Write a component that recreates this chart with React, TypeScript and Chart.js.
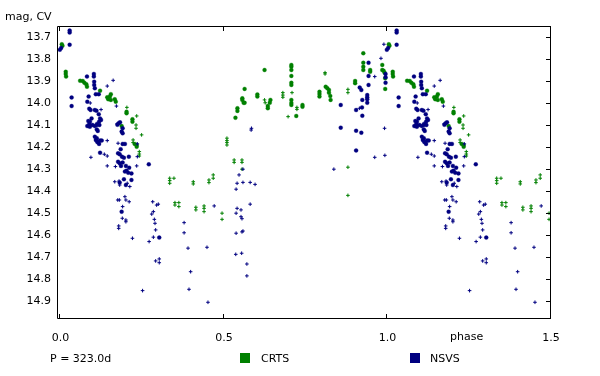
import React, { useEffect, useRef } from "react";
import { Chart, registerables } from "chart.js";

Chart.register(...registerables);

// ---- Data (phase, magnitude) ----
const xTicks = [0, 0.5, 1.0, 1.5];
const yTicks = [13.7, 13.8, 13.9, 14.0, 14.1, 14.2, 14.3, 14.4, 14.5, 14.6, 14.7, 14.8, 14.9];
const periodLabel = "P = 323.0d";
const seriesNames = ["CRTS", "NSVS"];

const crtsDots: [number, number][] = [
  [0.004, 13.733], [0.006, 13.740], [0.016, 13.858], [0.016, 13.868], [0.017, 13.880],
  [0.060, 13.899], [0.068, 13.900], [0.073, 13.908], [0.079, 13.915], [0.081, 13.926],
  [0.121, 13.944], [0.143, 13.974], [0.146, 13.983], [0.151, 13.971], [0.154, 13.960],
  [0.154, 13.986], [0.166, 13.983], [0.169, 13.994], [0.202, 14.040], [0.202, 14.047],
  [0.220, 14.074], [0.220, 14.085], [0.187, 14.105], [0.227, 14.186], [0.233, 14.191],
  [0.233, 14.199],
  [0.624, 13.850], [0.563, 13.936], [0.556, 13.979], [0.556, 13.986], [0.560, 13.999],
  [0.563, 13.999], [0.541, 14.024], [0.541, 14.036], [0.535, 14.067], [0.602, 13.961],
  [0.602, 13.971], [0.634, 14.014], [0.634, 14.024], [0.640, 13.999], [0.642, 13.986],
  [0.706, 13.827], [0.706, 13.835], [0.706, 13.850], [0.706, 13.877], [0.706, 13.908],
  [0.706, 13.918], [0.706, 13.986], [0.706, 14.000], [0.706, 14.009], [0.721, 14.059],
  [0.740, 14.009], [0.740, 14.017], [0.792, 13.949], [0.792, 13.959], [0.792, 13.971],
  [0.811, 13.926], [0.816, 13.933], [0.821, 13.941], [0.821, 13.953], [0.825, 13.968],
  [0.826, 13.986], [0.901, 13.900], [0.901, 13.910], [0.926, 13.774], [0.926, 13.817],
  [0.926, 13.835], [0.926, 13.850], [0.947, 13.850], [0.947, 13.858], [0.984, 13.827],
  [0.984, 13.850], [0.988, 13.853], [0.991, 13.862], [0.993, 13.888], [0.993, 13.936],
];

const crtsCrosses: [number, number][] = [
  [0.203, 14.020], [0.233, 14.059], [0.231, 14.100], [0.231, 14.115], [0.248, 14.145],
  [0.222, 14.168], [0.222, 14.180], [0.241, 14.221], [0.241, 14.232], [0.241, 14.241],
  [0.334, 14.342], [0.334, 14.353], [0.334, 14.365], [0.347, 14.342], [0.406, 14.358],
  [0.406, 14.368], [0.350, 14.453], [0.350, 14.464], [0.362, 14.453], [0.362, 14.471],
  [0.414, 14.474], [0.414, 14.486], [0.467, 14.327], [0.467, 14.342], [0.454, 14.350],
  [0.454, 14.362], [0.439, 14.468], [0.439, 14.479], [0.439, 14.494], [0.494, 14.501],
  [0.494, 14.529],
  [0.624, 13.986], [0.626, 13.999], [0.680, 13.953], [0.680, 13.964], [0.680, 13.974],
  [0.696, 14.062], [0.708, 13.953], [0.723, 14.020], [0.723, 14.029], [0.809, 13.862],
  [0.809, 13.868], [0.879, 13.938], [0.879, 13.953], [0.509, 14.160], [0.509, 14.171],
  [0.509, 14.180], [0.509, 14.191], [0.531, 14.259], [0.531, 14.270], [0.555, 14.259],
  [0.555, 14.270], [0.555, 14.301], [0.879, 14.292], [0.879, 14.420],
];

const nsvsDots: [number, number][] = [
  [-0.002, 13.758], [0.002, 13.750], [0.028, 13.671], [0.028, 13.680], [0.028, 13.735],
  [0.034, 13.975], [0.034, 14.014], [0.081, 13.880], [0.102, 13.868], [0.102, 13.880],
  [0.103, 13.903], [0.103, 13.918], [0.105, 13.933], [0.108, 13.960], [0.117, 13.960],
  [0.086, 13.971], [0.082, 13.994], [0.088, 14.026], [0.092, 14.032], [0.105, 14.032],
  [0.110, 14.035], [0.117, 14.051], [0.121, 14.070], [0.095, 14.070], [0.090, 14.085],
  [0.087, 14.105], [0.111, 14.100], [0.119, 14.100], [0.124, 14.077], [0.085, 14.082],
  [0.088, 14.095], [0.082, 14.105], [0.090, 14.108], [0.098, 14.100], [0.105, 14.105],
  [0.112, 14.095], [0.118, 14.085], [0.111, 14.120], [0.114, 14.127], [0.105, 14.153],
  [0.111, 14.160], [0.108, 14.168], [0.112, 14.176], [0.115, 14.180], [0.121, 14.171],
  [0.126, 14.171], [0.118, 14.186], [0.121, 14.226], [0.190, 14.115], [0.187, 14.130],
  [0.190, 14.138], [0.178, 14.092], [0.174, 14.099], [0.182, 14.088], [0.190, 14.186],
  [0.197, 14.186], [0.184, 14.210], [0.176, 14.229], [0.181, 14.233], [0.188, 14.244],
  [0.194, 14.249], [0.209, 14.244], [0.176, 14.267], [0.181, 14.274], [0.185, 14.286],
  [0.190, 14.271], [0.200, 14.286], [0.210, 14.294], [0.197, 14.312], [0.202, 14.308],
  [0.207, 14.317], [0.217, 14.320], [0.194, 14.347], [0.217, 14.350], [0.181, 14.362],
  [0.200, 14.373], [0.270, 14.279], [0.187, 14.494], [0.302, 14.612],
  [0.857, 14.009], [0.857, 14.112], [0.904, 14.032], [0.922, 14.020], [0.915, 13.930],
  [0.920, 13.941], [0.923, 13.986], [0.923, 14.058], [0.938, 13.964], [0.938, 13.974],
  [0.938, 13.983], [0.938, 13.999], [0.942, 13.817], [0.942, 13.877], [0.942, 13.918],
  [0.994, 13.868], [0.994, 13.883], [0.994, 13.908], [0.904, 14.126], [0.920, 14.135],
  [0.904, 14.216],
];

const nsvsCrosses: [number, number][] = [
  [0.143, 13.923], [0.161, 13.897], [0.124, 14.030], [0.091, 14.000], [0.171, 14.014],
  [0.173, 14.095], [0.143, 14.171], [0.176, 14.183], [0.235, 14.186], [0.093, 14.247],
  [0.134, 14.233], [0.143, 14.241], [0.143, 14.286], [0.168, 14.289], [0.235, 14.244],
  [0.233, 14.286], [0.166, 14.358], [0.179, 14.355], [0.181, 14.373], [0.204, 14.365],
  [0.212, 14.380], [0.197, 14.426], [0.200, 14.441], [0.210, 14.449], [0.175, 14.441],
  [0.180, 14.441], [0.190, 14.471], [0.189, 14.524], [0.200, 14.532], [0.200, 14.540],
  [0.178, 14.559], [0.178, 14.570], [0.220, 14.615], [0.282, 14.449], [0.294, 14.464],
  [0.299, 14.460], [0.279, 14.505], [0.284, 14.494], [0.287, 14.529], [0.289, 14.547],
  [0.291, 14.577], [0.284, 14.610], [0.271, 14.630], [0.378, 14.544], [0.378, 14.590],
  [0.390, 14.660], [0.291, 14.718], [0.302, 14.709], [0.302, 14.726], [0.398, 14.767],
  [0.251, 14.853], [0.393, 14.847], [0.448, 14.656], [0.451, 14.906], [0.470, 14.468],
  [0.536, 14.688], [0.554, 14.683], [0.570, 14.732], [0.570, 14.786], [0.584, 14.115],
  [0.583, 14.123], [0.914, 14.024], [0.961, 13.880], [0.980, 13.797], [0.989, 13.733],
  [0.991, 14.115], [0.558, 14.301], [0.546, 14.327], [0.540, 14.365], [0.558, 14.361],
  [0.580, 14.361], [0.595, 14.370], [0.537, 14.392], [0.540, 14.479], [0.552, 14.486],
  [0.537, 14.501], [0.552, 14.517], [0.555, 14.526], [0.580, 14.460], [0.537, 14.592],
  [0.555, 14.586], [0.558, 14.582], [0.836, 14.301], [0.961, 14.247], [0.992, 14.238],
];

const GREEN = "#008000";
const NAVY = "#000080";
const FONT = "DejaVu Sans";

// phase-folded plot: phases up to 0.5 are repeated one cycle later
function unfold(pts: [number, number][]) {
  const out: { x: number; y: number }[] = [];
  for (const [p, m] of pts) {
    out.push({ x: p, y: m });
    if (p <= 0.5) out.push({ x: p + 1, y: m });
  }
  return out;
}

const decor = {
  id: "decor",
  afterDraw(chart: any) {
    const { ctx, chartArea: a, scales } = chart;
    const xs = scales.x;
    const ys = scales.y;
    ctx.save();
    ctx.strokeStyle = "#000";
    ctx.lineWidth = 1;
    ctx.beginPath();
    const L = a.left + 0.5, R = a.right - 0.5, T = a.top + 0.5, B = a.bottom - 0.5;
    ctx.moveTo(L, T); ctx.lineTo(R, T); ctx.lineTo(R, B); ctx.lineTo(L, B); ctx.closePath();
    for (const v of xTicks) {
      const x = Math.round(xs.getPixelForValue(v)) - 0.5;
      ctx.moveTo(x, a.top); ctx.lineTo(x, a.top + 5);
      ctx.moveTo(x, a.bottom); ctx.lineTo(x, a.bottom - 5);
    }
    for (const v of yTicks) {
      const y = Math.round(ys.getPixelForValue(v)) + 0.5;
      ctx.moveTo(a.right, y); ctx.lineTo(a.right - 5, y);
    }
    ctx.stroke();

    ctx.fillStyle = "#000";
    ctx.font = `11px "${FONT}"`;
    ctx.textBaseline = "middle";
    ctx.textAlign = "left";
    ctx.fillText("mag, CV", 5, 17);
    ctx.fillText("phase", 450, 337);
    ctx.fillText(periodLabel, 50, 359);
    ctx.fillStyle = GREEN;
    ctx.fillRect(240, 353, 10, 10);
    ctx.fillStyle = NAVY;
    ctx.fillRect(410, 353, 10, 10);
    ctx.fillStyle = "#000";
    ctx.fillText(seriesNames[0], 261, 359);
    ctx.fillText(seriesNames[1], 430, 359);
    ctx.restore();
  },
};

export default function App() {
  const ref = useRef<HTMLCanvasElement>(null);
  useEffect(() => {
    document.body.style.margin = "0";
    const canvas = ref.current!;
    const dotStyle = (c: string) => ({
      pointStyle: "circle" as const,
      pointRadius: 2,
      pointBackgroundColor: c,
      pointBorderColor: c,
      pointBorderWidth: 0.3,
      showLine: false,
    });
    const crossStyle = (c: string) => ({
      pointStyle: "cross" as const,
      pointRadius: 1.8,
      pointBackgroundColor: c,
      pointBorderColor: c,
      pointBorderWidth: 1,
      showLine: false,
    });
    const chart = new Chart(canvas, {
      type: "scatter",
      data: {
        datasets: [
          { label: "NSVS", data: unfold(nsvsDots), ...dotStyle(NAVY) },
          { label: "NSVS", data: unfold(nsvsCrosses), ...crossStyle(NAVY) },
          { label: "CRTS", data: unfold(crtsDots), ...dotStyle(GREEN) },
          { label: "CRTS", data: unfold(crtsCrosses), ...crossStyle(GREEN) },
        ],
      },
      options: {
        animation: false,
        responsive: false,
        devicePixelRatio: 1,
        layout: { padding: { left: 0, top: 26, right: 49, bottom: 0 } },
        plugins: { legend: { display: false }, tooltip: { enabled: false } },
        scales: {
          x: {
            type: "linear",
            min: -0.0107,
            max: 1.5,
            grid: { display: false, drawTicks: false },
            border: { display: false },
            afterFit: (s: any) => { s.height = 57; },
            afterBuildTicks: (s: any) => { s.ticks = xTicks.map((v) => ({ value: v })); },
            ticks: {
              autoSkip: false,
              maxRotation: 0,
              padding: 13,
              color: "#000",
              font: { family: FONT, size: 11 },
              callback: (v: any) => Number(v).toFixed(1),
            },
          },
          y: {
            type: "linear",
            reverse: true,
            min: 13.65,
            max: 14.982,
            grid: { display: false, drawTicks: false },
            border: { display: false },
            afterFit: (s: any) => { s.width = 57; },
            afterBuildTicks: (s: any) => { s.ticks = yTicks.map((v) => ({ value: v })); },
            ticks: {
              autoSkip: false,
              padding: 6,
              color: "#000",
              font: { family: FONT, size: 11 },
              callback: (v: any) => Number(v).toFixed(1),
            },
          },
        },
      },
      plugins: [decor],
    });
    return () => chart.destroy();
  }, []);
  return <canvas ref={ref} width={600} height={376} style={{ display: "block" }} />;
}
